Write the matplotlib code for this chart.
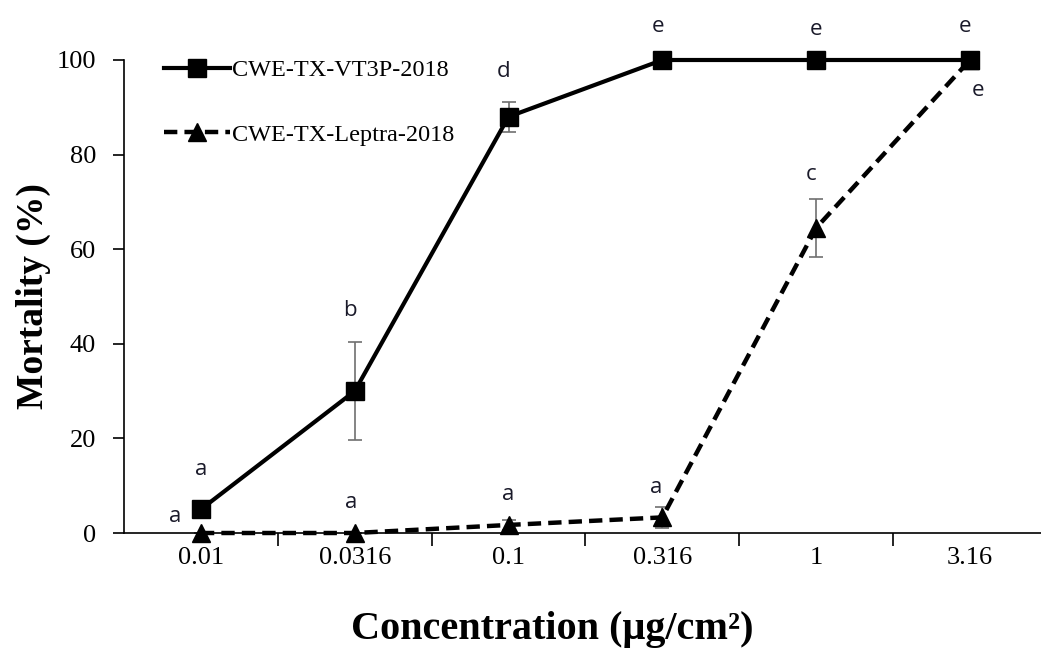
import matplotlib
matplotlib.use("Agg")
import matplotlib.pyplot as plt
import numpy as np

categories = ["0.01", "0.0316", "0.1", "0.316", "1", "3.16"]
vt3p_mean = [5, 30, 88, 100, 100, 100]
vt3p_err = [0, 10.4, 3.2, 0, 0, 0]
leptra_mean = [0, 0, 1.7, 3.3, 64.5, 100]
leptra_err = [0, 0, 1.0, 2.2, 6.1, 0]
vt3p_letters = ["a", "b", "d", "e", "e", "e"]
leptra_letters = ["a", "a", "a", "a", "c", "e"]
yticks = [0, 20, 40, 60, 80, 100]

serif = ["Liberation Serif", "DejaVu Serif"]
letter_font = ["Open Sans", "DejaVu Sans"]

fig = plt.figure(figsize=(10.41, 6.48), dpi=100)
ax = fig.add_axes([124 / 1041, 1 - 533 / 648, 1 - 124 / 1041, (533 - 60) / 648])

x = np.arange(len(categories))

ax.errorbar(x, vt3p_mean, yerr=vt3p_err, fmt="none", ecolor="#707070",
            elinewidth=1.2, capsize=5, capthick=1.2, zorder=2, clip_on=False)
ax.errorbar(x, leptra_mean, yerr=leptra_err, fmt="none", ecolor="#707070",
            elinewidth=1.2, capsize=5, capthick=1.2, zorder=2, clip_on=False)

ax.plot(x, vt3p_mean, color="black", lw=3, marker="s", ms=13,
        label="CWE-TX-VT3P-2018", zorder=4, clip_on=False)
ax.plot(x, leptra_mean, color="black", lw=3.2, ls=(0, (3, 1.6)), marker="^", ms=13,
        label="CWE-TX-Leptra-2018", zorder=3, clip_on=False)

# significance letters
vt3p_off = [(0, 8.5), (-0.03, 17), (-0.03, 9.5), (-0.03, 7), (0, 6.5), (-0.03, 7)]
leptra_off = [(-0.17, 3.4), (-0.02, 6.5), (0, 6.5), (-0.04, 6.4), (-0.03, 11.2), (0.05, -6.4)]
for i, (lab, v) in enumerate(zip(vt3p_letters, vt3p_mean)):
    dx, dy = vt3p_off[i]
    ax.text(x[i] + dx, v + dy, lab, ha="center", va="center", fontsize=16,
            family=letter_font, color="#1a1a2a", zorder=5)
for i, (lab, v) in enumerate(zip(leptra_letters, leptra_mean)):
    dx, dy = leptra_off[i]
    ax.text(x[i] + dx, v + dy, lab, ha="center", va="center", fontsize=16,
            family=letter_font, color="#1a1a2a", zorder=5)

ax.set_xlim(-0.5, (1041 - 201) / 153.8)
ax.set_ylim(0, 100)

ax.set_xticks(x)
ax.set_xticklabels(categories, fontsize=19, family=serif)
ax.set_xticks(np.arange(0.5, 5.0, 1.0), minor=True)
ax.tick_params(axis="x", which="major", length=0, pad=10)
ax.tick_params(axis="x", which="minor", length=9, width=1.2, direction="out")
ax.set_yticks(yticks)
ax.set_yticklabels([str(t) for t in yticks], fontsize=19, family=serif)
ax.tick_params(axis="y", length=8, width=1.2, direction="out", pad=12)

for s in ["top", "right"]:
    ax.spines[s].set_visible(False)
for s in ["left", "bottom"]:
    ax.spines[s].set_linewidth(1.2)

ax.set_xlabel("Concentration (μg/cm²)", fontsize=29, fontweight="bold",
              family=serif)
ax.xaxis.label.set_verticalalignment("center")
ax.xaxis.set_label_coords((552 - 124) / (1041 - 124), -(630 - 533) / (533 - 60))
ax.set_ylabel("Mortality (%)", fontsize=27, fontweight="bold", family=serif,
              labelpad=4)

leg = ax.legend(loc="upper left", bbox_to_anchor=(0.02, 1.048), frameon=False,
                prop={"family": serif, "size": 17.5}, handlelength=2.7,
                handletextpad=0.1, labelspacing=1.75)

fig.savefig("out.png", dpi=100)
